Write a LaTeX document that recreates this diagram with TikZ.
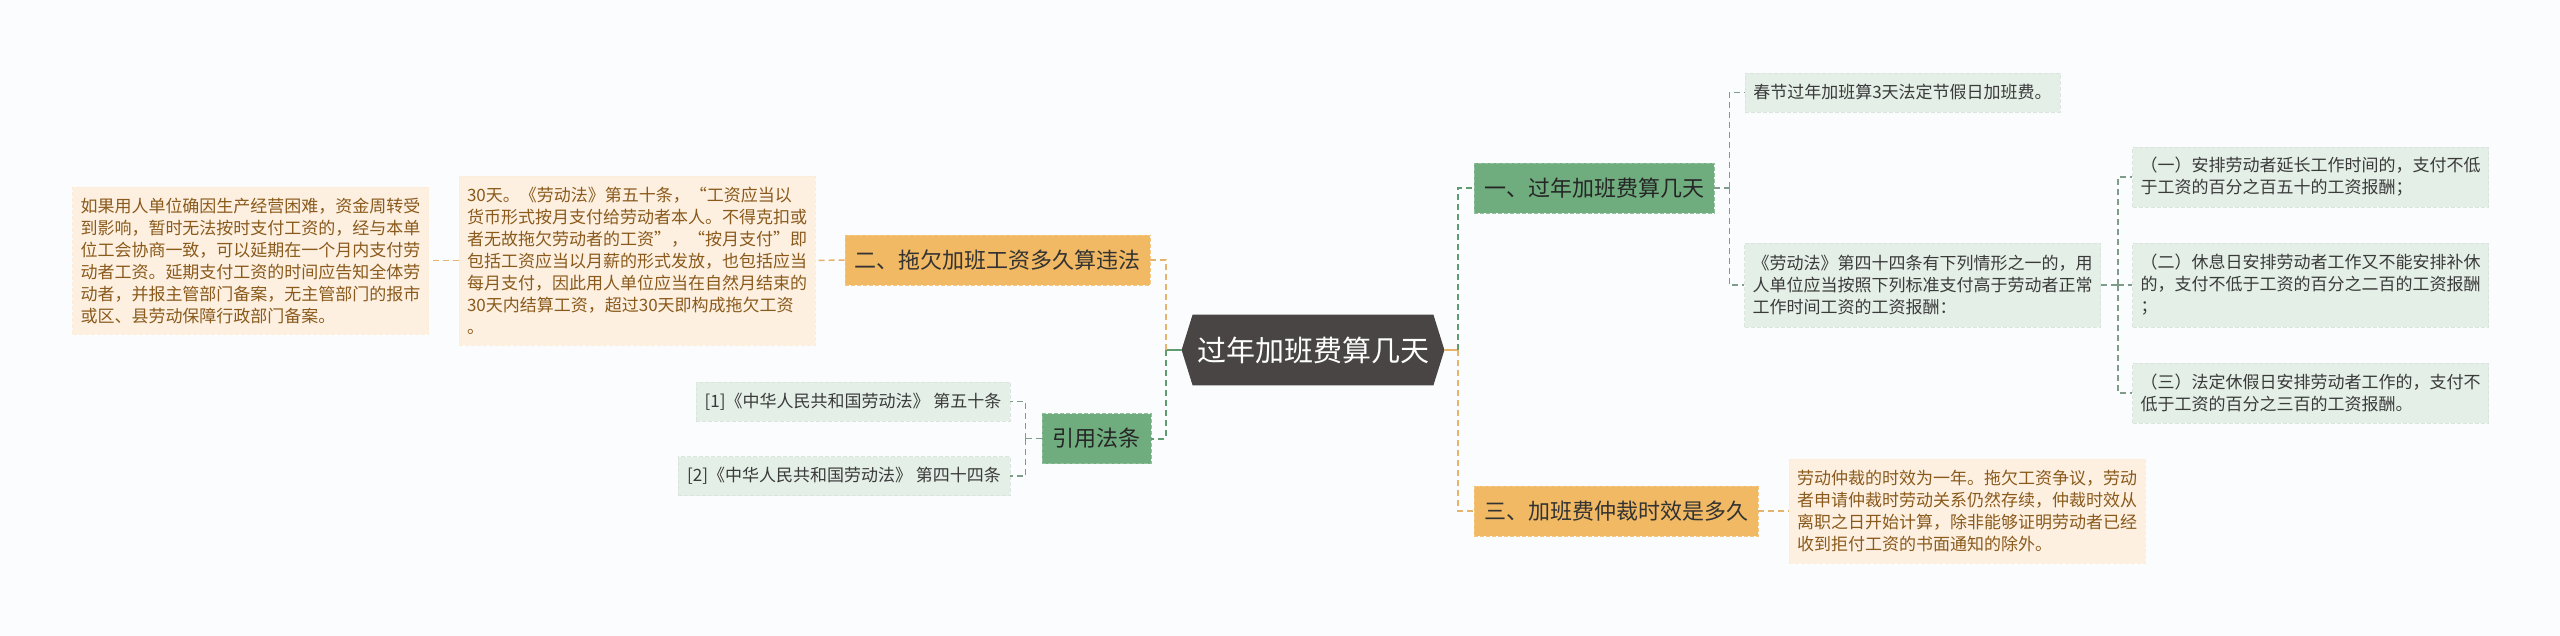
\documentclass[tikz,border=0pt]{standalone}
\usepackage{fontspec}
\setmainfont{Noto Sans CJK SC}
\usetikzlibrary{backgrounds}
\definecolor{bgc}{HTML}{FAFCFD}
\definecolor{rootc}{HTML}{4A4545}
\definecolor{orfill}{HTML}{F1B963}
\definecolor{orline}{HTML}{E6B36C}
\definecolor{grfill}{HTML}{6FAC7E}
\definecolor{grline}{HTML}{5F9D71}
\definecolor{subline}{HTML}{7F9C8A}
\definecolor{ornote}{HTML}{FDF0E1}
\definecolor{grnote}{HTML}{E4EFE7}
\definecolor{brtext}{HTML}{8A5A1C}
\definecolor{dktext}{HTML}{3A3A3A}
\newcommand{\smallcn}{\fontsize{8.5}{11}\selectfont}
\begin{document}
\begin{tikzpicture}[x=0.5pt,y=-0.5pt,
    root/.style={inner sep=0pt,minimum width=131pt,minimum height=35pt,text=white,
      font=\fontsize{14.5}{17}\selectfont},
    obranch/.style={fill=orfill,draw=orfill!80!white,dash pattern=on 2pt off 1pt,
      text=black!80,inner sep=0pt,minimum height=25pt,font=\fontsize{11}{13}\selectfont},
    gbranch/.style={fill=grfill,draw=grfill!75!white,dash pattern=on 2pt off 1pt,
      text=black!85,inner sep=0pt,minimum height=25pt,font=\fontsize{11}{13}\selectfont},
    onote/.style={fill=ornote,draw=ornote!96!orange,dash pattern=on 2pt off 1pt,
      text=brtext,font=\smallcn,inner xsep=4pt,inner ysep=0pt,text width=170pt,align=left},
    gnote/.style={fill=grnote,draw=grnote!96!black,dash pattern=on 2pt off 1pt,
      text=dktext,font=\smallcn,inner xsep=4pt,inner ysep=0pt,text width=170pt,align=left},
    gref/.style={fill=grnote,draw=grnote!96!black,dash pattern=on 2pt off 1pt,
      text=dktext,font=\smallcn,inner sep=0pt,minimum height=19.5pt},
    oline/.style={draw=orline,line width=1pt,dash pattern=on 3pt off 2pt},
    gline/.style={draw=grline,line width=1pt,dash pattern=on 3pt off 2pt},
    sline/.style={draw=subline,line width=.75pt,dash pattern=on 3pt off 2pt}]
  % centre
  \node[root] (c) at (1313,350) {过年加班费算几天};
  % left side
  \node[obranch,minimum width=152.5pt] (b2) at (997.5,260) {二、拖欠加班工资多久算违法};
  \node[onote,minimum height=84.5pt] (t21) at (637,260.5) {30天。《劳动法》第五十条，“工资应当以\\货币形式按月支付给劳动者本人。不得克扣或\\者无故拖欠劳动者的工资”，“按月支付”即\\包括工资应当以月薪的形式发放，也包括应当\\每月支付，因此用人单位应当在自然月结束的\\30天内结算工资，超过30天即构成拖欠工资\\。};
  \node[onote,minimum height=73.5pt] (t22) at (250.5,260.5) {如果用人单位确因生产经营困难，资金周转受\\到影响，暂时无法按时支付工资的，经与本单\\位工会协商一致，可以延期在一个月内支付劳\\动者工资。延期支付工资的时间应告知全体劳\\动者，并报主管部门备案，无主管部门的报市\\或区、县劳动保障行政部门备案。};
  \node[gbranch,minimum width=54.5pt] (cite) at (1096.5,438.5) {引用法条};
  \node[gref,minimum width=157pt] (r1) at (853,401.5) {[1]《中华人民共和国劳动法》 第五十条};
  \node[gref,minimum width=166pt] (r2) at (844,476) {[2]《中华人民共和国劳动法》 第四十四条};
  % right side
  \node[gbranch,minimum width=120pt] (b1) at (1594,188) {一、过年加班费算几天};
  \node[gref,minimum width=157.5pt] (t11) at (1902.5,92.5) {春节过年加班算3天法定节假日加班费。};
  \node[gnote,minimum height=42pt] (t12) at (1922.5,285) {《劳动法》第四十四条有下列情形之一的，用\\人单位应当按照下列标准支付高于劳动者正常\\工作时间工资的工资报酬：};
  \node[gnote,minimum height=30pt] (g1) at (2310.5,177) {（一）安排劳动者延长工作时间的，支付不低\\于工资的百分之百五十的工资报酬；};
  \node[gnote,minimum height=42pt] (g2) at (2310.5,285) {（二）休息日安排劳动者工作又不能安排补休\\的，支付不低于工资的百分之二百的工资报酬\\；};
  \node[gnote,minimum height=30pt] (g3) at (2310.5,393) {（三）法定休假日安排劳动者工作的，支付不\\低于工资的百分之三百的工资报酬。};
  \node[obranch,minimum width=142pt] (b3) at (1616,511) {三、加班费仲裁时效是多久};
  \node[onote,minimum height=52pt] (t3) at (1967,511) {劳动仲裁的时效为一年。拖欠工资争议，劳动\\者申请仲裁时劳动关系仍然存续，仲裁时效从\\离职之日开始计算，除非能够证明劳动者已经\\收到拒付工资的书面通知的除外。};
  % spines
  \coordinate (cl) at ([xshift=-8pt]c.west);
  \coordinate (cr) at ([xshift=7pt]c.east);
  \coordinate (citel) at ([xshift=-8pt]cite.west);
  \coordinate (b1r) at ([xshift=7.5pt]b1.east);
  \coordinate (t12r) at ([xshift=8.5pt]t12.east);
  \draw[grline,line width=1pt] (c.west) -- (cl);
  \draw[orline,line width=1pt] (c.east) -- (cr);
  \draw[oline] (cl) |- (b2.east);
  \draw[gline] (cl) |- (cite.east);
  \draw[gline] (cr) |- (b1.west);
  \draw[oline] (cr) |- (b3.west);
  \draw[oline,line width=.75pt] (b2.west) -- (t21.east);
  \draw[oline,line width=.75pt] (t21.west) -- (t22.east);
  \draw[sline] (cite.west) -- (citel);
  \draw[sline] (citel) |- (r1.east);
  \draw[sline] (citel) |- (r2.east);
  \draw[sline] (b1.east) -- (b1r);
  \draw[sline] (b1r) |- (t11.west);
  \draw[sline] (b1r) |- (t12.west);
  \draw[sline] (t12.east) -- (t12r);
  \draw[sline] (t12r) |- (g1.west);
  \draw[sline] (t12r) |- (g2.west);
  \draw[sline] (t12r) |- (g3.west);
  \draw[oline,line width=.75pt] (b3.east) -- (t3.west);
  \begin{pgfonlayer}{background}
    \fill[bgc] (0,0) rectangle (2560,636);
    \fill[rootc] (c.west) -- ([xshift=5.5pt]c.north west) -- ([xshift=-5.5pt]c.north east)
      -- (c.east) -- ([xshift=-5.5pt]c.south east) -- ([xshift=5.5pt]c.south west) -- cycle;
  \end{pgfonlayer}
\end{tikzpicture}
\end{document}
